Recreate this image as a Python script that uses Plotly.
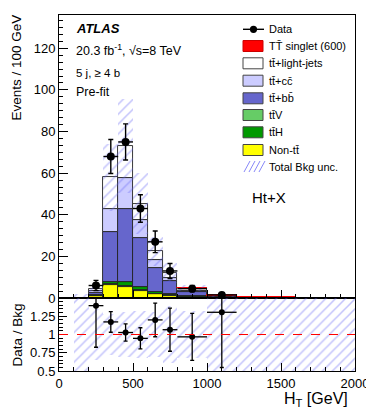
"""ATLAS-style H_T distribution with stacked backgrounds and Data/Bkg ratio."""

import numpy as np
import plotly.graph_objects as go

# bin edges in GeV (values are events per 100 GeV)
edges = [100, 200, 300, 400, 500, 600, 700, 800, 1000, 1200, 1600, 2000]

non_tt = [0.02, 1.0, 6.4, 5.3, 3.6, 1.9, 1.2, 0.5, 0.15, 0.04, 0.0]
ttv = [0.0, 0.1, 0.3, 0.5, 0.4, 0.2, 0.15, 0.08, 0.03, 0.01, 0.0]
tth = [0.0, 0.2, 0.8, 2.0, 1.4, 0.8, 0.5, 0.25, 0.07, 0.02, 0.0]
ttbb = [0.04, 1.1, 24.0, 35.0, 23.6, 11.3, 6.45, 2.07, 0.5, 0.15, 0.005]
ttcc = [0.02, 0.9, 11.2, 14.7, 8.5, 4.2, 1.5, 0.7, 0.15, 0.06, 0.0]
ttlight = [0.02, 1.0, 15.3, 15.5, 7.9, 4.1, 2.4, 1.05, 0.25, 0.05, 0.0]
signal = [None, None, None, None, None, None, None, 0.35, 0.15, 0.05, None]
bkg_unc = [2.0, 1.5, 16.0, 22.5, 14.5, 7.0, 4.8, 1.5, 0.8, 0.3, 0.05]

data = [None, 6.0, 68.0, 75.0, 43.0, 27.0, 13.0, 4.5, 1.5, None, None]
data_err = [None, 2.45, 8.2, 8.7, 6.6, 5.2, 3.6, 1.5, 0.87, None, None]

# stacking order, bottom to top
samples = [
    ("Non-tt̄", non_tt, "#ffff00", "#222222"),
    ("tt̄V", ttv, "#66cc66", "#222222"),
    ("tt̄H", tth, "#009900", "#222222"),
    ("tt̄+bb̄", ttbb, "#6666cc", "#222222"),
    ("tt̄+cc̄", ttcc, "#ccccff", "#222222"),
    ("tt̄+light-jets", ttlight, "#ffffff", "#222222"),
    ("TT̄ singlet (600)", signal, "#ff0000", "#ff0000"),
]
legend_order = [6, 5, 4, 3, 1, 2, 0]

FONT = "Liberation Sans, Arial, Helvetica, sans-serif"
HATCH_COLOR = "rgba(95,95,245,0.75)"
HATCH = dict(shape="/", fgcolor=HATCH_COLOR, bgcolor="rgba(0,0,0,0)", size=7, solidity=0.22)

# page geometry in pixels; the html body adds an 8px margin around the figure
OFF = 8
W, H = 374 - OFF, 414 - OFF
PLOT_L, PLOT_R, PLOT_T, PLOT_B = 59, 355, 15, 371   # plot frame in page pixels
ML, MT = PLOT_L - OFF, PLOT_T - OFF
MR, MB = W - (PLOT_R - OFF), H - (PLOT_B - OFF)
PW, PH = PLOT_R - PLOT_L, PLOT_B - PLOT_T


def px(x, y):
    return (x - PLOT_L) / PW, (PLOT_B - y) / PH


lo = np.array(edges[:-1], float)
hi = np.array(edges[1:], float)
centers = (lo + hi) / 2
widths = hi - lo

fig = go.Figure()

base = np.zeros(len(centers))
for name, vals, color, lcolor in samples:
    v = np.array([np.nan if x is None else x for x in vals], float)
    fig.add_trace(
        go.Bar(
            x=centers,
            y=v,
            base=base.copy(),
            width=widths,
            marker=dict(color=color, line=dict(color=lcolor, width=0.9)),
            name=name,
            showlegend=False,
            hoverinfo="skip",
        )
    )
    if name.startswith("TT"):
        continue
    base = base + v

bkg_total = base
unc = np.array(bkg_unc, float)
band_lo = np.clip(bkg_total - unc, 0, None)
fig.add_trace(
    go.Bar(
        x=centers,
        y=bkg_total + unc - band_lo,
        base=band_lo,
        width=widths,
        marker=dict(color="rgba(0,0,0,0)", line=dict(width=0), pattern=HATCH),
        showlegend=False,
        hoverinfo="skip",
    )
)

mask = np.array([d is not None for d in data])
d = np.array([x for x in data if x is not None], float)
de = np.array([x for x in data_err if x is not None], float)
fig.add_trace(
    go.Scatter(
        x=centers[mask],
        y=d,
        mode="markers",
        marker=dict(color="black", size=8),
        error_x=dict(type="data", array=widths[mask] / 2, width=0, thickness=1.4, color="black"),
        error_y=dict(type="data", array=de, width=2.5, thickness=1.4, color="black"),
        showlegend=False,
    )
)

# ratio panel
rel = unc / bkg_total
fig.add_trace(
    go.Bar(
        x=centers,
        y=2 * rel,
        base=1 - rel,
        width=widths,
        marker=dict(color="rgba(0,0,0,0)", line=dict(width=0), pattern=HATCH),
        xaxis="x2",
        yaxis="y2",
        showlegend=False,
        hoverinfo="skip",
    )
)
fig.add_shape(
    type="line", xref="x2", yref="y2", x0=0, x1=2000, y0=1, y1=1,
    line=dict(color="red", width=1, dash="dash"),
)
fig.add_trace(
    go.Scatter(
        x=centers[mask],
        y=d / bkg_total[mask],
        mode="markers",
        marker=dict(color="black", size=6),
        error_x=dict(type="data", array=widths[mask] / 2, width=0, thickness=1.3, color="black"),
        error_y=dict(type="data", array=de / bkg_total[mask], width=2, thickness=1.3, color="black"),
        xaxis="x2",
        yaxis="y2",
        showlegend=False,
    )
)

split = 73 / PH
axis_common = dict(
    showline=True, linecolor="black", linewidth=1, mirror=True, automargin=False,
    ticks="inside", tickcolor="black", showgrid=False, zeroline=False,
    tickfont=dict(size=13, family=FONT, color="black"),
)
fig.update_layout(
    width=W,
    height=H,
    margin=dict(l=ML, r=MR, t=MT, b=MB, autoexpand=False),
    plot_bgcolor="white",
    paper_bgcolor="white",
    barmode="overlay",
    bargap=0,
    font=dict(family=FONT, color="black"),
    xaxis=dict(
        domain=[0, 1], anchor="y", range=[0, 2000], showticklabels=False,
        dtick=500, ticklen=8, minor=dict(dtick=100, ticklen=4, ticks="inside"), **axis_common,
    ),
    yaxis=dict(
        domain=[split, 1], anchor="x", range=[0, 136], dtick=20, ticklen=9,
        minor=dict(dtick=20 / 6, ticklen=4, ticks="inside"), **axis_common,
    ),
    xaxis2=dict(
        domain=[0, 1], anchor="y2", range=[0, 2000], dtick=500, ticklen=8,
        minor=dict(dtick=100, ticklen=4, ticks="inside"), **axis_common,
    ),
    yaxis2=dict(
        domain=[0, split], anchor="x2", range=[0.5, 1.5],
        tickvals=[0.5, 0.75, 1, 1.25], ticktext=["0.5", "0.75", "1", "1.25"], ticklen=8,
        minor=dict(dtick=0.05, ticklen=4, ticks="inside"), **axis_common,
    ),
)


def text(x, y, s, size=12, **kw):
    xp, yp = px(x, y)
    fig.add_annotation(
        x=xp, y=yp, xref="paper", yref="paper", text=s, showarrow=False,
        xanchor=kw.pop("xanchor", "left"), yanchor=kw.pop("yanchor", "middle"),
        font=dict(size=size, family=FONT, color="black"), **kw,
    )


text(74, 28, "<b><i>ATLAS</i></b>", 13)
text(74, 50, "20.3 fb<sup>-1</sup>, √s=8 TeV", 12.5)
text(74, 73, "5 j, ≥ 4 b", 11.5)
text(74, 92, "Pre-fit", 12.5)
text(250, 197, "Ht+X", 15)
text(16.5, 68, "Events / 100 GeV", 13.5, textangle=-90, xanchor="center")
text(16.5, 335, "Data / Bkg", 13.5, textangle=-90, xanchor="center")
text(350, 399, "H<sub>T</sub> [GeV]", 16, xanchor="right")

# legend, drawn by hand in ROOT style
bx0, bx1, tx = 243, 263, 267
x0, y0 = px(bx0, 29.3)
x1, _ = px(bx1 + 1, 29.3)
fig.add_shape(type="line", xref="paper", yref="paper", x0=x0, x1=x1, y0=y0, y1=y0,
              line=dict(color="black", width=1.4))
cx, cy = px(253.5, 29.3)
rx, ry = 3.6 / PW, 3.6 / PH
fig.add_shape(type="circle", xref="paper", yref="paper", x0=cx - rx, x1=cx + rx, y0=cy - ry, y1=cy + ry,
              fillcolor="black", line=dict(color="black", width=0))
text(tx, 29.3, "Data", 11)

rows_y = [46, 63.3, 80.7, 98.3, 115, 132.3, 150]
for idx, ry_px in zip(legend_order, rows_y):
    name, _, color, lcolor = samples[idx]
    a, b = px(bx0, ry_px + 5.5)
    c, e = px(bx1, ry_px - 5.5)
    fig.add_shape(type="rect", xref="paper", yref="paper", x0=a, x1=c, y0=b, y1=e,
                  fillcolor=color, line=dict(color="#444444" if lcolor != "#ff0000" else "#cc0000", width=1))
    text(tx, ry_px, name, 11)

for k in range(4):
    xa, ya = px(bx0 + 1 + k * 5, 172)
    xb, yb = px(bx0 + 7 + k * 5, 161)
    fig.add_shape(type="line", xref="paper", yref="paper", x0=xa, x1=xb, y0=ya, y1=yb,
                  line=dict(color=HATCH_COLOR, width=1))
text(tx, 166.7, "Total Bkg unc.", 11)

fig.write_html("out.html")
